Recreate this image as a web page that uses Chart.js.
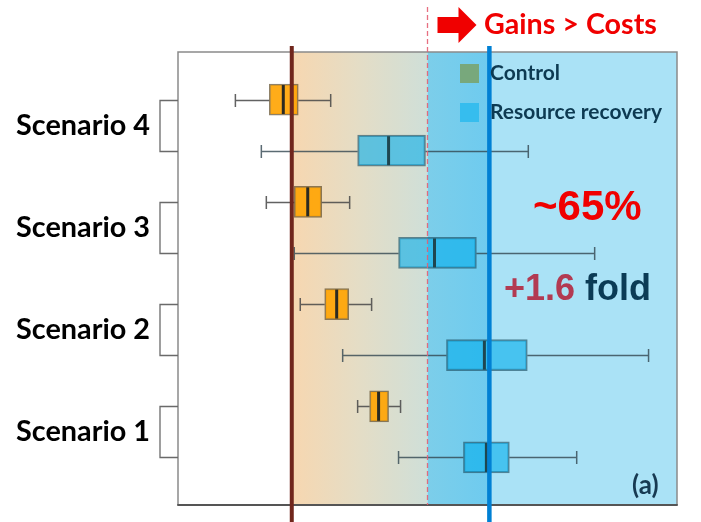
<!DOCTYPE html>
<html><head><meta charset="utf-8">
<script src="https://cdn.jsdelivr.net/npm/chart.js@4.4.0/dist/chart.umd.min.js"></script>
<style>html,body{margin:0;padding:0;background:#fff}#wrap{width:701px;height:522px;position:relative}</style>
</head><body><div id="wrap"><canvas id="c"></canvas></div>
<script>
// ---- data ----
const categories = ['Scenario 4', 'Scenario 3', 'Scenario 2', 'Scenario 1'];
const seriesNames = ['Control', 'Resource recovery'];
const controlMin    = [-38.5, -32.3, -25.5, -14.0];
const controlQ1     = [-31.7, -26.7, -20.6, -11.6];
const controlMedian = [-28.9, -24.0, -18.2,  -9.8];
const controlQ3     = [-25.9, -21.2, -15.8,  -7.8];
const controlMax    = [-19.4, -15.6, -11.2,  -5.4];
const rrMin    = [-33.3, -26.7, -17.0, -5.8];
const rrQ1     = [-14.0,  -5.8,   3.8,  7.2];
const rrMedian = [ -7.8,   1.4,  11.4, 11.8];
const rrQ3     = [ -0.4,   9.8,  20.0, 16.4];
const rrMax    = [ 20.2,  33.5,  44.3, 29.9];
const controlLine = -27.2;   // brown reference line
const breakEven = 0;         // dashed line: gains = costs
const rrLine = 12.4;         // blue reference line
const headerText = 'Gains > Costs';
const pctText = '~65%';
const foldNum = '+1.6';
const foldWord = 'fold';
const panelTag = '(a)';

// ---- chart ----
const rowControl = categories.map((c, i) => 2 * i);
const rowRR = categories.map((c, i) => 2 * i + 1);

function fitFont(ctx, text, weight, family, target) {
  ctx.font = weight + ' 100px ' + family;
  const w = ctx.measureText(text).width;
  return weight + ' ' + (100 * target / w).toFixed(2) + 'px ' + family;
}

const boxPlugin = {
  id: 'boxPlugin',
  beforeDatasetsDraw(chart) {
    const {ctx, chartArea: a, scales: {x, y}} = chart;
    const xb = x.getPixelForValue(controlLine), xd = x.getPixelForValue(breakEven), xr = x.getPixelForValue(rrLine);
    ctx.save();
    const g = ctx.createLinearGradient(xb, 0, xd, 0);
    g.addColorStop(0, 'rgb(247,215,176)');
    g.addColorStop(0.5, 'rgb(228,221,198)');
    g.addColorStop(1, 'rgb(207,223,216)');
    ctx.fillStyle = g;
    ctx.fillRect(xb, a.top, xd - xb, a.bottom - a.top);
    const g2 = ctx.createLinearGradient(xd, 0, xr, 0);
    g2.addColorStop(0, 'rgb(124,206,234)');
    g2.addColorStop(1, 'rgb(110,203,239)');
    ctx.fillStyle = g2;
    ctx.fillRect(xd, a.top, xr - xd, a.bottom - a.top);
    ctx.fillStyle = 'rgb(170,226,246)';
    ctx.fillRect(xr, a.top, a.right - xr, a.bottom - a.top);
    // whiskers
    const drawW = (mins, q1s, q3s, maxs, rows, col) => {
      ctx.strokeStyle = col; ctx.lineWidth = 1.5;
      rows.forEach((r, i) => {
        const yc = Math.round(y.getPixelForValue(r)) + 0.5;
        const p = v => x.getPixelForValue(v);
        ctx.beginPath();
        ctx.moveTo(p(mins[i]), yc); ctx.lineTo(p(q1s[i]), yc);
        ctx.moveTo(p(q3s[i]), yc); ctx.lineTo(p(maxs[i]), yc);
        ctx.moveTo(p(mins[i]), yc - 6.5); ctx.lineTo(p(mins[i]), yc + 6.5);
        ctx.moveTo(p(maxs[i]), yc - 6.5); ctx.lineTo(p(maxs[i]), yc + 6.5);
        ctx.stroke();
      });
    };
    drawW(controlMin, controlQ1, controlQ3, controlMax, rowControl, 'rgba(70,70,70,0.85)');
    drawW(rrMin, rrQ1, rrQ3, rrMax, rowRR, 'rgba(50,70,80,0.8)');
    ctx.restore();
  },
  afterDatasetsDraw(chart) {
    const {ctx, chartArea: a, scales: {x, y}} = chart;
    const xb = x.getPixelForValue(controlLine), xd = x.getPixelForValue(breakEven), xr = x.getPixelForValue(rrLine);
    ctx.save();
    // medians
    const drawM = (meds, rows, col) => {
      ctx.strokeStyle = col; ctx.lineWidth = 3;
      rows.forEach((r, i) => {
        const yc = y.getPixelForValue(r);
        const xm = x.getPixelForValue(meds[i]);
        ctx.beginPath(); ctx.moveTo(xm, yc - 14.5); ctx.lineTo(xm, yc + 14.5); ctx.stroke();
      });
    };
    drawM(controlMedian, rowControl, '#2a2a22');
    drawM(rrMedian, rowRR, '#1f4650');
    // frame
    ctx.strokeStyle = '#8a8a8a'; ctx.lineWidth = 1.5;
    ctx.beginPath();
    ctx.moveTo(a.left, a.bottom); ctx.lineTo(a.left, a.top); ctx.lineTo(a.right, a.top); ctx.lineTo(a.right, a.bottom);
    ctx.stroke();
    ctx.strokeStyle = '#555'; ctx.lineWidth = 2;
    ctx.beginPath(); ctx.moveTo(a.left - 0.75, a.bottom); ctx.lineTo(a.right + 0.75, a.bottom); ctx.stroke();
    // brackets + labels
    ctx.strokeStyle = '#6a6a6a'; ctx.lineWidth = 1.3;
    const lblFont = fitFont(ctx, 'Scenario 4', 'bold', 'Lato', 134);
    categories.forEach((c, i) => {
      const y1 = Math.round(y.getPixelForValue(rowControl[i])) + 0.5;
      const y2 = Math.round(y.getPixelForValue(rowRR[i])) + 0.5;
      ctx.beginPath();
      ctx.moveTo(a.left, y1); ctx.lineTo(a.left - 18, y1); ctx.lineTo(a.left - 18, y2); ctx.lineTo(a.left, y2);
      ctx.stroke();
      ctx.font = lblFont; ctx.fillStyle = '#000'; ctx.textAlign = 'right'; ctx.textBaseline = 'alphabetic';
      ctx.fillText(c, a.left - 28, (y1 + y2) / 2 + 9);
    });
    // dashed break-even line
    ctx.strokeStyle = 'rgba(228,95,115,0.9)'; ctx.lineWidth = 1.3; ctx.setLineDash([5, 3]);
    ctx.beginPath(); ctx.moveTo(xd, 7); ctx.lineTo(xd, a.bottom); ctx.stroke();
    ctx.setLineDash([]);
    // reference lines
    ctx.strokeStyle = 'rgb(112,38,28)'; ctx.lineWidth = 4;
    ctx.beginPath(); ctx.moveTo(xb, a.top - 6); ctx.lineTo(xb, chart.height); ctx.stroke();
    ctx.strokeStyle = 'rgb(0,128,212)'; ctx.lineWidth = 4.5;
    ctx.beginPath(); ctx.moveTo(xr, a.top - 6); ctx.lineTo(xr, chart.height); ctx.stroke();
    // arrow + header
    const ax = xd + 10;
    ctx.fillStyle = '#f00000';
    ctx.beginPath();
    ctx.moveTo(ax, 17); ctx.lineTo(ax + 21, 17); ctx.lineTo(ax + 21, 7); ctx.lineTo(ax + 39, 25);
    ctx.lineTo(ax + 21, 43); ctx.lineTo(ax + 21, 33); ctx.lineTo(ax, 33); ctx.closePath(); ctx.fill();
    ctx.font = fitFont(ctx, headerText, 'bold', 'Lato', 173);
    ctx.fillStyle = '#f00000'; ctx.textAlign = 'left'; ctx.textBaseline = 'alphabetic';
    ctx.fillText(headerText, 484, 34);
    // legend
    const legCols = ['rgb(120,168,124)', 'rgb(54,189,238)'];
    const legFont = fitFont(ctx, seriesNames[1], 'bold', 'Lato', 172);
    seriesNames.forEach((s, i) => {
      const ty = 64 + i * 39;
      ctx.fillStyle = legCols[i];
      ctx.fillRect(460, ty, 19, 19);
      ctx.font = legFont; ctx.fillStyle = '#0d3a52'; ctx.textAlign = 'left';
      ctx.fillText(s, 490, ty + 16);
    });
    // annotations
    ctx.font = 'bold 42px "Liberation Sans", Arial, sans-serif';
    ctx.fillStyle = '#f00000'; ctx.textAlign = 'left';
    ctx.fillText(pctText, 533, 220);
    ctx.font = 'bold 36px "Liberation Sans", Arial, sans-serif';
    ctx.fillStyle = '#b23a52';
    ctx.fillText(foldNum, 504, 300);
    const w1 = ctx.measureText(foldNum + ' ').width;
    ctx.fillStyle = '#0b3b55';
    ctx.fillText(foldWord, 504 + w1, 300);
    ctx.font = 'bold 26px Lato';
    ctx.fillStyle = '#173a52';
    ctx.fillText(panelTag, 632, 494);
    ctx.restore();
  }
};

new Chart(document.getElementById('c'), {
  type: 'bar',
  data: {
    datasets: [
      {
        label: seriesNames[0],
        data: categories.map((c, i) => ({y: rowControl[i], x: [controlQ1[i], controlQ3[i]]})),
        backgroundColor: 'rgba(255,163,0,0.9)',
        borderColor: 'rgba(95,75,40,0.7)',
        borderWidth: 1.5, borderSkipped: false, barThickness: 31, grouped: false
      },
      {
        label: seriesNames[1],
        data: categories.map((c, i) => ({y: rowRR[i], x: [rrQ1[i], rrQ3[i]]})),
        backgroundColor: 'rgba(0,172,236,0.58)',
        borderColor: 'rgba(30,80,100,0.65)',
        borderWidth: 1.5, borderSkipped: false, barThickness: 31, grouped: false
      }
    ]
  },
  options: {
    indexAxis: 'y',
    responsive: true, maintainAspectRatio: false, animation: false,
    layout: {padding: {left: 178, right: 24, top: 52, bottom: 17}},
    plugins: {legend: {display: false}, tooltip: {enabled: false}},
    scales: {
      x: {type: 'linear', display: false, min: -50, max: 50},
      y: {type: 'linear', display: false, offset: false, min: -0.93, max: 7.93, reverse: true}
    }
  },
  plugins: [boxPlugin]
});
</script></body></html>
